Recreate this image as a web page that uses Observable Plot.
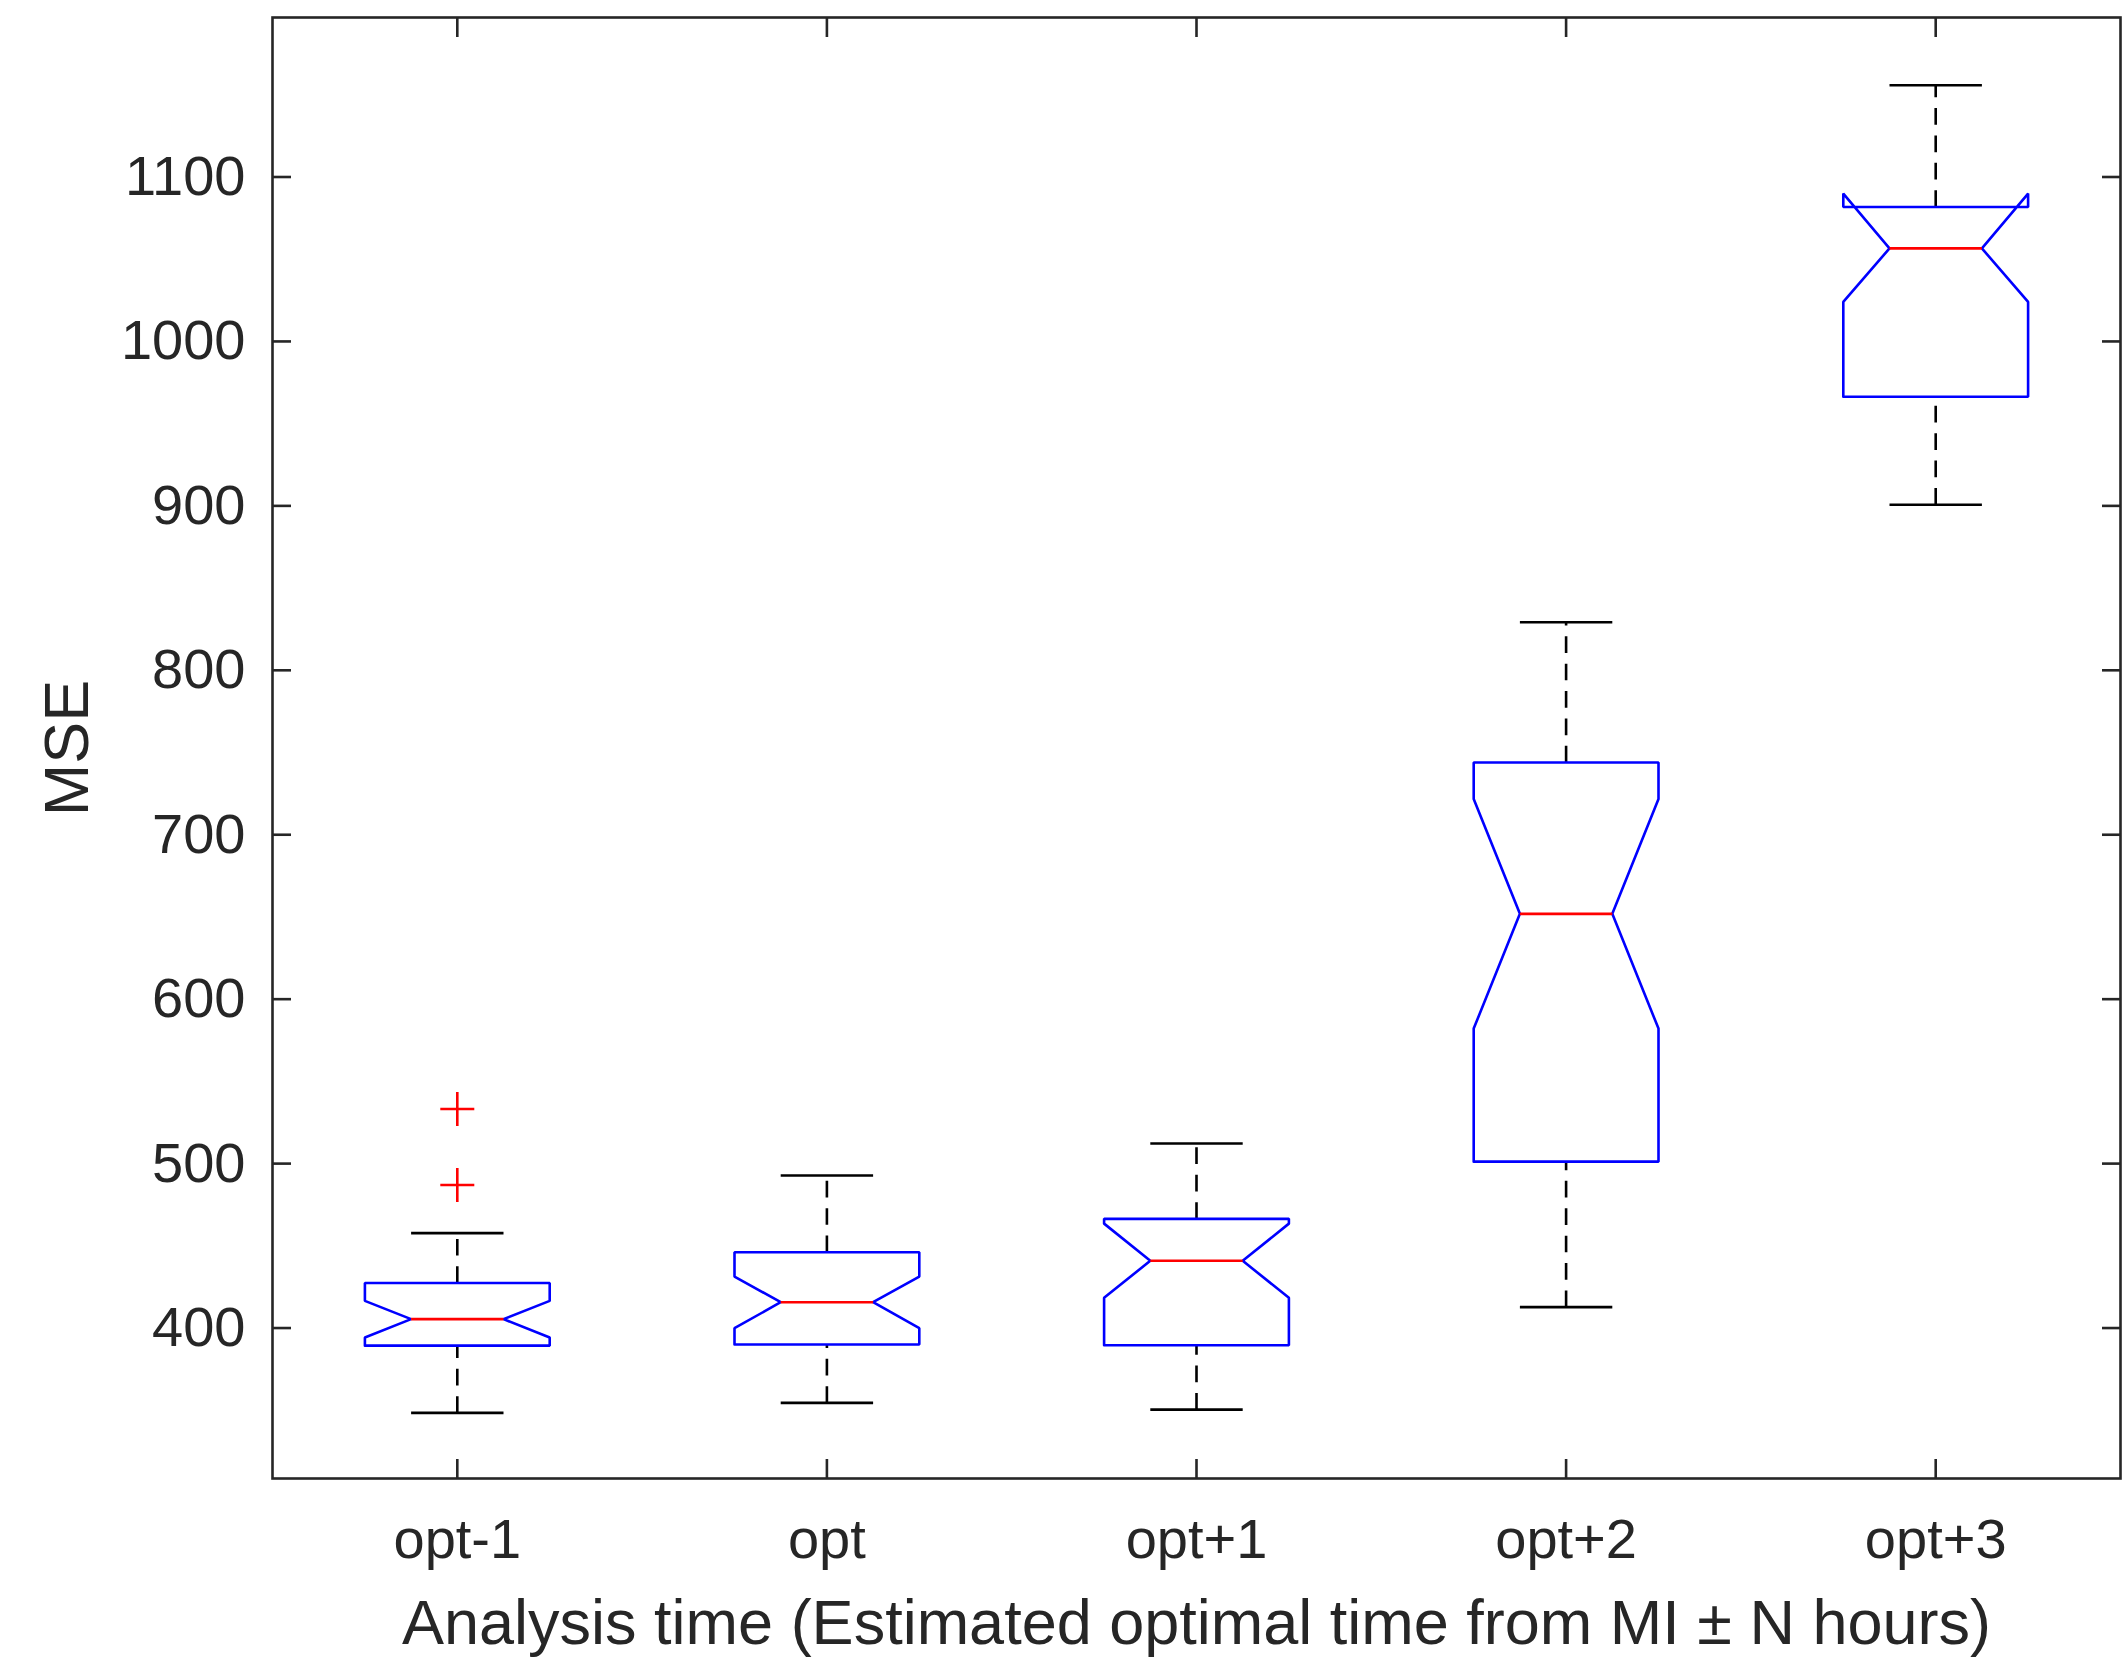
<!DOCTYPE html>
<html>
<head>
<meta charset="utf-8">
<script src="https://cdn.jsdelivr.net/npm/d3@7"></script>
<script src="https://cdn.jsdelivr.net/npm/@observablehq/plot@0.6"></script>
<style>
  html, body { margin: 0; padding: 0; background: #fff; }
  #chart svg { display: block; }
</style>
</head>
<body>
<div id="chart"></div>
<script>
// ---- Data ----
const categories   = ["opt-1", "opt", "opt+1", "opt+2", "opt+3"];
const lowerWhisker = [348.4, 354.5, 350.4, 412.7, 900.7];
const q1           = [389.3, 390.0, 389.5, 501.2, 966.4];
const notchLow     = [394.2, 399.9, 418.4, 582.1, 1024.0];
const median       = [405.4, 415.7, 440.9, 651.9, 1056.6];
const notchHigh    = [416.5, 431.3, 463.5, 721.8, 1089.9];
const q3           = [427.4, 446.1, 466.4, 743.9, 1081.8];
const upperWhisker = [457.7, 492.8, 512.2, 829.2, 1155.8];
const outlierCategory = ["opt-1", "opt-1"];
const outlierValue    = [533.2, 487.0];
const yTicks = [400, 500, 600, 700, 800, 900, 1000, 1100];
const xLabel = "Analysis time (Estimated optimal time from MI \u00B1 N hours)";
const yLabel = "MSE";

// ---- Layout / style ----
const W = 2122, H = 1658;
const boxHalf = 0.25, notchHalf = 0.125, capHalf = 0.125;
const blue = "#0000ff", red = "#ff0000", black = "#000000", axisColor = "#262626";
const lw = 2.6;

const stats = categories.map((c, i) => ({
  cat: c, pos: i + 1,
  lo: lowerWhisker[i], q1: q1[i], nlo: notchLow[i], med: median[i],
  nhi: notchHigh[i], q3: q3[i], hi: upperWhisker[i]
}));

// notched box outlines
const boxPts = stats.flatMap(s => {
  const c = s.pos;
  return [
    [c - boxHalf, s.q1], [c - boxHalf, s.nlo], [c - notchHalf, s.med],
    [c - boxHalf, s.nhi], [c - boxHalf, s.q3], [c + boxHalf, s.q3],
    [c + boxHalf, s.nhi], [c + notchHalf, s.med], [c + boxHalf, s.nlo],
    [c + boxHalf, s.q1], [c - boxHalf, s.q1]
  ].map(([x, y]) => ({g: s.cat, x, y}));
});

const whiskers = stats.flatMap(s => [
  {x: s.pos, y1: s.q3, y2: s.hi},
  {x: s.pos, y1: s.lo, y2: s.q1}
]);
const caps = stats.flatMap(s => [
  {x1: s.pos - capHalf, x2: s.pos + capHalf, y: s.hi},
  {x1: s.pos - capHalf, x2: s.pos + capHalf, y: s.lo}
]);
const outliers = outlierValue.map((v, i) => ({pos: categories.indexOf(outlierCategory[i]) + 1, v}));

const plusSymbol = {
  draw(ctx, size) {
    const r = Math.sqrt(size / Math.PI);
    ctx.moveTo(-r, 0); ctx.lineTo(r, 0);
    ctx.moveTo(0, -r); ctx.lineTo(0, r);
  }
};

const chart = Plot.plot({
  width: W, height: H,
  marginLeft: 272, marginRight: 2, marginTop: 17, marginBottom: 180,
  style: {fontFamily: "'Liberation Sans', Arial, Helvetica, sans-serif", fontSize: "56px", color: axisColor, background: "#fff"},
  x: {type: "linear", domain: [0.5, 5.5]},
  y: {domain: [308.5, 1197]},
  marks: [
    Plot.link(whiskers, {x1: "x", x2: "x", y1: "y1", y2: "y2", stroke: black, strokeWidth: lw, strokeDasharray: "16.7,10.7"}),
    Plot.link(caps, {x1: "x1", x2: "x2", y1: "y", y2: "y", stroke: black, strokeWidth: lw}),
    Plot.line(boxPts, {x: "x", y: "y", z: "g", stroke: blue, strokeWidth: lw, strokeLinejoin: "miter"}),
    Plot.link(stats, {x1: d => d.pos - notchHalf, x2: d => d.pos + notchHalf, y1: "med", y2: "med", stroke: red, strokeWidth: lw}),
    Plot.dot(outliers, {x: "pos", y: "v", symbol: plusSymbol, r: 17, stroke: red, strokeWidth: lw, fill: "none"}),
    Plot.frame({stroke: axisColor, strokeWidth: lw}),
    Plot.axisX({ticks: [1, 2, 3, 4, 5], tickFormat: d => categories[d - 1], tickSize: -19, tickPadding: 59, strokeWidth: lw, label: null}),
    Plot.axisX({anchor: "top", ticks: [1, 2, 3, 4, 5], tickFormat: () => "", tickSize: -19, strokeWidth: lw, label: null}),
    Plot.axisY({ticks: yTicks, tickFormat: d => String(d), tickSize: -19, tickPadding: 46, strokeWidth: lw, label: null}),
    Plot.axisY({anchor: "right", ticks: yTicks, tickFormat: () => "", tickSize: -19, strokeWidth: lw, label: null}),
    Plot.text([xLabel], {text: d => d, frameAnchor: "bottom", textAnchor: "middle", lineAnchor: "bottom", dy: 165, fontSize: 63, fill: axisColor}),
    Plot.text([yLabel], {text: d => d, frameAnchor: "left", textAnchor: "middle", rotate: -90, dx: -205, lineAnchor: "middle", fontSize: 63, fill: axisColor})
  ]
});
document.getElementById("chart").appendChild(chart);
</script>
</body>
</html>
